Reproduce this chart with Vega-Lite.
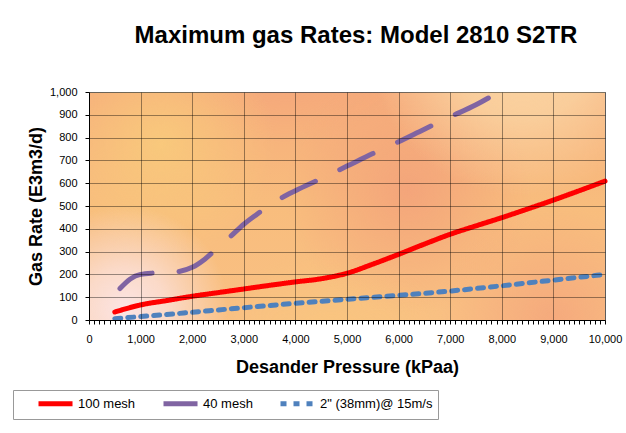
{
  "$schema": "https://vega.github.io/schema/vega-lite/v6.json",
  "width": 516,
  "height": 228,
  "autosize": {"type": "none"},
  "padding": {"left": 89, "top": 92, "right": 21, "bottom": 113},
  "background": "white",
  "title": {
    "text": "Maximum gas Rates: Model 2810 S2TR",
    "font": "Liberation Sans",
    "fontSize": 24,
    "fontWeight": "bold",
    "color": "black",
    "anchor": "middle",
    "frame": "group",
    "dx": 9,
    "offset": 38
  },
  "config": {
    "view": {
      "stroke": "#999999",
      "strokeWidth": 1,
      "fill": {
        "gradient": "linear",
        "x1": 0, "y1": 0, "x2": 0, "y2": 1,
        "stops": [
          {"offset": 0, "color": "#f6ad7b"},
          {"offset": 0.5, "color": "#f8bd7d"},
          {"offset": 1, "color": "#f9c083"}
        ]
      }
    }
  },
  "layer": [
    {
      "data": {"values": [{}]},
      "mark": {"type": "rect", "fill": {"gradient": "radial", "x1": 0.38, "y1": 0.08, "r1": 0, "x2": 0.38, "y2": 0.08, "r2": 0.3,
        "stops": [{"offset": 0, "color": "rgba(243,160,122,0.85)"}, {"offset": 1, "color": "rgba(243,160,122,0)"}]}},
      "encoding": {"x": {"datum": 0}, "x2": {"datum": 10000}, "y": {"datum": 0}, "y2": {"datum": 1000}}
    },
    {
      "data": {"values": [{}]},
      "mark": {"type": "rect", "fill": {"gradient": "radial", "x1": 0.62, "y1": 0.47, "r1": 0, "x2": 0.62, "y2": 0.47, "r2": 0.24,
        "stops": [{"offset": 0, "color": "rgba(243,161,122,0.85)"}, {"offset": 1, "color": "rgba(243,161,122,0)"}]}},
      "encoding": {"x": {"datum": 0}, "x2": {"datum": 10000}, "y": {"datum": 0}, "y2": {"datum": 1000}}
    },
    {
      "data": {"values": [{}]},
      "mark": {"type": "rect", "fill": {"gradient": "radial", "x1": 0.9, "y1": 0.72, "r1": 0, "x2": 0.9, "y2": 0.72, "r2": 0.22,
        "stops": [{"offset": 0, "color": "rgba(244,164,123,0.8)"}, {"offset": 1, "color": "rgba(244,164,123,0)"}]}},
      "encoding": {"x": {"datum": 0}, "x2": {"datum": 10000}, "y": {"datum": 0}, "y2": {"datum": 1000}}
    },
    {
      "data": {"values": [{}]},
      "mark": {"type": "rect", "fill": {"gradient": "radial", "x1": 0.14, "y1": 0.38, "r1": 0, "x2": 0.14, "y2": 0.38, "r2": 0.22,
        "stops": [{"offset": 0, "color": "rgba(249,204,124,0.85)"}, {"offset": 1, "color": "rgba(249,204,124,0)"}]}},
      "encoding": {"x": {"datum": 0}, "x2": {"datum": 10000}, "y": {"datum": 0}, "y2": {"datum": 1000}}
    },
    {
      "data": {"values": [{}]},
      "mark": {"type": "rect", "fill": {"gradient": "radial", "x1": 0.47, "y1": 0.82, "r1": 0, "x2": 0.47, "y2": 0.82, "r2": 0.24,
        "stops": [{"offset": 0, "color": "rgba(249,201,124,0.8)"}, {"offset": 1, "color": "rgba(249,201,124,0)"}]}},
      "encoding": {"x": {"datum": 0}, "x2": {"datum": 10000}, "y": {"datum": 0}, "y2": {"datum": 1000}}
    },
    {
      "data": {"values": [{}]},
      "mark": {"type": "rect", "fill": {"gradient": "radial", "x1": 0.84, "y1": 0.18, "r1": 0, "x2": 0.84, "y2": 0.18, "r2": 0.3,
        "stops": [{"offset": 0, "color": "rgba(251,218,168,0.95)"}, {"offset": 0.5, "color": "rgba(251,218,168,0.7)"}, {"offset": 1, "color": "rgba(251,218,168,0)"}]}},
      "encoding": {"x": {"datum": 0}, "x2": {"datum": 10000}, "y": {"datum": 0}, "y2": {"datum": 1000}}
    },
    {
      "data": {"values": [{}]},
      "mark": {"type": "rect", "fill": {"gradient": "radial", "x1": 0.07, "y1": 0.7, "r1": 0, "x2": 0.07, "y2": 0.7, "r2": 0.2,
        "stops": [{"offset": 0, "color": "rgba(252,232,238,0.9)"}, {"offset": 0.4, "color": "rgba(252,232,238,0.65)"}, {"offset": 1, "color": "rgba(252,232,238,0)"}]}},
      "encoding": {"x": {"datum": 0}, "x2": {"datum": 10000}, "y": {"datum": 0}, "y2": {"datum": 1000}}
    },
    {
      "data": {"values": [{}]},
      "mark": {"type": "rect", "fill": {"gradient": "radial", "x1": 1, "y1": 0, "r1": 0, "x2": 1, "y2": 0, "r2": 0.22,
        "stops": [{"offset": 0, "color": "rgba(253,230,230,1)"}, {"offset": 1, "color": "rgba(253,230,230,0)"}]}},
      "encoding": {"x": {"datum": 0}, "x2": {"datum": 10000}, "y": {"datum": 0}, "y2": {"datum": 1000}}
    },
    {
      "data": {"values": [{}]},
      "mark": {"type": "rect", "fill": {"gradient": "radial", "x1": 0, "y1": 1, "r1": 0, "x2": 0, "y2": 1, "r2": 0.16,
        "stops": [{"offset": 0, "color": "rgba(251,230,200,0.95)"}, {"offset": 1, "color": "rgba(251,230,200,0)"}]}},
      "encoding": {"x": {"datum": 0}, "x2": {"datum": 10000}, "y": {"datum": 0}, "y2": {"datum": 1000}}
    },
    {
      "data": {
        "values": [
          {"series": "100 mesh", "pressure": 500, "rate": 35},
          {"series": "100 mesh", "pressure": 1000, "rate": 66},
          {"series": "100 mesh", "pressure": 1500, "rate": 85},
          {"series": "100 mesh", "pressure": 2000, "rate": 104},
          {"series": "100 mesh", "pressure": 2500, "rate": 120},
          {"series": "100 mesh", "pressure": 3000, "rate": 136},
          {"series": "100 mesh", "pressure": 3500, "rate": 152},
          {"series": "100 mesh", "pressure": 4000, "rate": 167},
          {"series": "100 mesh", "pressure": 4500, "rate": 181},
          {"series": "100 mesh", "pressure": 5000, "rate": 205},
          {"series": "100 mesh", "pressure": 5500, "rate": 245},
          {"series": "100 mesh", "pressure": 6000, "rate": 288},
          {"series": "100 mesh", "pressure": 6500, "rate": 333},
          {"series": "100 mesh", "pressure": 7000, "rate": 376},
          {"series": "100 mesh", "pressure": 7500, "rate": 413},
          {"series": "100 mesh", "pressure": 8000, "rate": 449},
          {"series": "100 mesh", "pressure": 8500, "rate": 487},
          {"series": "100 mesh", "pressure": 9000, "rate": 526},
          {"series": "100 mesh", "pressure": 9500, "rate": 567},
          {"series": "100 mesh", "pressure": 10000, "rate": 609},
          {"series": "40 mesh", "pressure": 600, "rate": 138},
          {"series": "40 mesh", "pressure": 800, "rate": 180},
          {"series": "40 mesh", "pressure": 1000, "rate": 200},
          {"series": "40 mesh", "pressure": 1250, "rate": 206},
          {"series": "40 mesh", "pressure": 1500, "rate": 208},
          {"series": "40 mesh", "pressure": 1750, "rate": 213},
          {"series": "40 mesh", "pressure": 2000, "rate": 231},
          {"series": "40 mesh", "pressure": 2250, "rate": 268},
          {"series": "40 mesh", "pressure": 2500, "rate": 318},
          {"series": "40 mesh", "pressure": 2750, "rate": 368},
          {"series": "40 mesh", "pressure": 3000, "rate": 420},
          {"series": "40 mesh", "pressure": 3250, "rate": 463},
          {"series": "40 mesh", "pressure": 3500, "rate": 503},
          {"series": "40 mesh", "pressure": 3750, "rate": 538},
          {"series": "40 mesh", "pressure": 4000, "rate": 567},
          {"series": "40 mesh", "pressure": 4500, "rate": 620},
          {"series": "40 mesh", "pressure": 5000, "rate": 675},
          {"series": "40 mesh", "pressure": 5500, "rate": 730},
          {"series": "40 mesh", "pressure": 6000, "rate": 782},
          {"series": "40 mesh", "pressure": 6500, "rate": 837},
          {"series": "40 mesh", "pressure": 7000, "rate": 891},
          {"series": "40 mesh", "pressure": 7500, "rate": 944},
          {"series": "40 mesh", "pressure": 7750, "rate": 975},
          {"series": "2\" (38mm)@ 15m/s", "pressure": 500, "rate": 6},
          {"series": "2\" (38mm)@ 15m/s", "pressure": 1000, "rate": 15},
          {"series": "2\" (38mm)@ 15m/s", "pressure": 1500, "rate": 24},
          {"series": "2\" (38mm)@ 15m/s", "pressure": 2000, "rate": 34},
          {"series": "2\" (38mm)@ 15m/s", "pressure": 3000, "rate": 54},
          {"series": "2\" (38mm)@ 15m/s", "pressure": 4000, "rate": 73},
          {"series": "2\" (38mm)@ 15m/s", "pressure": 5000, "rate": 91},
          {"series": "2\" (38mm)@ 15m/s", "pressure": 6000, "rate": 108},
          {"series": "2\" (38mm)@ 15m/s", "pressure": 7000, "rate": 127},
          {"series": "2\" (38mm)@ 15m/s", "pressure": 8000, "rate": 150},
          {"series": "2\" (38mm)@ 15m/s", "pressure": 9000, "rate": 175},
          {"series": "2\" (38mm)@ 15m/s", "pressure": 10000, "rate": 200}
        ]
      },
      "mark": {"type": "line", "interpolate": "monotone", "strokeCap": "round", "strokeJoin": "round"},
      "encoding": {
        "x": {
          "field": "pressure",
          "type": "quantitative",
          "scale": {"domain": [0, 10000], "nice": false},
          "axis": {
            "title": "Desander Pressure (kPaa)",
            "titleFont": "Liberation Sans",
            "titleFontSize": 18,
            "titleFontWeight": "bold",
            "titleColor": "black",
            "titlePadding": 14,
            "tickCount": 100,
            "labelExpr": "datum.value % 1000 === 0 ? format(datum.value, ',') : ''",
            "labelOverlap": false,
            "labelFlush": false,
            "labelFont": "Liberation Sans",
            "labelFontSize": 11,
            "labelColor": "black",
            "labelPadding": 9,
            "tickSize": 4,
            "tickColor": "black",
            "domainColor": "black",
            "grid": true,
            "gridColor": "black",
            "gridOpacity": {"condition": {"test": "datum.value % 1000 === 0", "value": 0.4}, "value": 0},
            "zindex": 1
          }
        },
        "y": {
          "field": "rate",
          "type": "quantitative",
          "scale": {"domain": [0, 1000], "nice": false},
          "axis": {
            "title": "Gas Rate (E3m3/d)",
            "titleFont": "Liberation Sans",
            "titleFontSize": 18,
            "titleFontWeight": "bold",
            "titleColor": "black",
            "titlePadding": 4,
            "tickCount": 10,
            "format": ",d",
            "labelFont": "Liberation Sans",
            "labelFontSize": 11,
            "labelColor": "black",
            "labelPadding": 8,
            "tickSize": 4,
            "tickColor": "black",
            "domainColor": "black",
            "grid": true,
            "gridColor": "black",
            "gridOpacity": 0.4,
            "zindex": 1
          }
        },
        "color": {
          "field": "series",
          "type": "nominal",
          "scale": {"domain": ["100 mesh", "40 mesh", "2\" (38mm)@ 15m/s"], "range": ["#ff0000", "#8064a2", "#4f81bd"]},
          "legend": {
            "title": null,
            "orient": "none",
            "legendX": -76,
            "legendY": 298,
            "direction": "horizontal",
            "strokeColor": "#999999",
            "fillColor": "white",
            "padding": 5,
            "labelFont": "Liberation Sans",
            "labelFontSize": 13,
            "labelColor": "black",
            "labelOffset": 43,
            "symbolType": "M2,0H7.67",
            "symbolSize": 144,
            "columnPadding": 7,
            "encode": {
              "symbols": {
                "update": {
                  "strokeDash": {"signal": "datum.label === '40 mesh' ? [20, 9] : datum.label === '100 mesh' ? [1, 0] : [7, 4]"}
                }
              }
            }
          }
        },
        "strokeDash": {
          "field": "series",
          "type": "nominal",
          "scale": {"domain": ["100 mesh", "40 mesh", "2\" (38mm)@ 15m/s"], "range": [[1, 0], [37, 27], [6, 7]]}
        },
        "strokeWidth": {
          "field": "series",
          "type": "nominal",
          "scale": {"domain": ["100 mesh", "40 mesh", "2\" (38mm)@ 15m/s"], "range": [5, 5, 3]}
        }
      }
    }
  ]
}
